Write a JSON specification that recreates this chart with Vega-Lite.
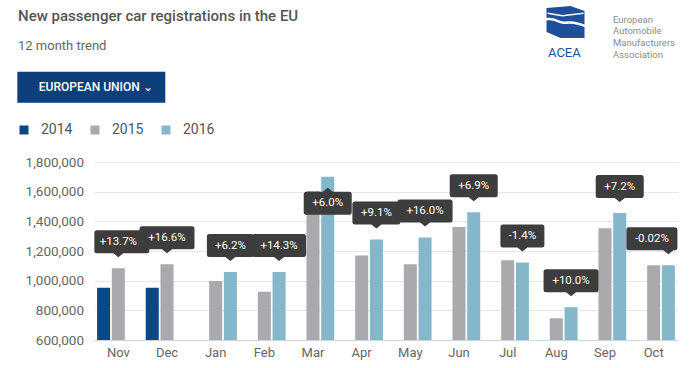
{
  "$schema": "https://vega.github.io/schema/vega-lite/v6.json",
  "width": 584,
  "height": 178,
  "autosize": {"type": "none"},
  "padding": {"left": 94, "top": 162, "right": 22, "bottom": 28},
  "background": "#ffffff",
  "config": {"view": {"stroke": null}, "font": "Roboto"},
  "title": {
    "text": "New passenger car registrations in the EU",
    "subtitle": "12 month trend",
    "anchor": "start",
    "frame": "group",
    "dx": -76,
    "dy": 6,
    "offset": 0,
    "font": "Roboto",
    "fontSize": 15,
    "fontWeight": 500,
    "color": "#555555",
    "subtitleFont": "Roboto",
    "subtitleFontSize": 13,
    "subtitleColor": "#666666",
    "subtitlePadding": 16
  },
  "datasets": {
    "bars": [
      {"month": "Nov", "year": "2014", "value": 953000},
      {"month": "Nov", "year": "2015", "value": 1084000},
      {"month": "Dec", "year": "2014", "value": 953000},
      {"month": "Dec", "year": "2015", "value": 1111000},
      {"month": "Jan", "year": "2015", "value": 998000},
      {"month": "Jan", "year": "2016", "value": 1058000},
      {"month": "Feb", "year": "2015", "value": 926000},
      {"month": "Feb", "year": "2016", "value": 1058000},
      {"month": "Mar", "year": "2015", "value": 1604000},
      {"month": "Mar", "year": "2016", "value": 1700000},
      {"month": "Apr", "year": "2015", "value": 1169000},
      {"month": "Apr", "year": "2016", "value": 1277000},
      {"month": "May", "year": "2015", "value": 1111000},
      {"month": "May", "year": "2016", "value": 1291000},
      {"month": "Jun", "year": "2015", "value": 1361000},
      {"month": "Jun", "year": "2016", "value": 1462000},
      {"month": "Jul", "year": "2015", "value": 1138000},
      {"month": "Jul", "year": "2016", "value": 1122000},
      {"month": "Aug", "year": "2015", "value": 746000},
      {"month": "Aug", "year": "2016", "value": 821000},
      {"month": "Sep", "year": "2015", "value": 1354000},
      {"month": "Sep", "year": "2016", "value": 1456000},
      {"month": "Oct", "year": "2015", "value": 1104000},
      {"month": "Oct", "year": "2016", "value": 1104000}
    ],
    "labels": [
      {"month": "Nov", "year": "2015", "value": 1084000, "label": "+13.7%"},
      {"month": "Dec", "year": "2015", "value": 1111000, "label": "+16.6%"},
      {"month": "Jan", "year": "2016", "value": 1058000, "label": "+6.2%"},
      {"month": "Feb", "year": "2016", "value": 1058000, "label": "+14.3%"},
      {"month": "Mar", "year": "2016", "value": 1700000, "label": "+6.0%"},
      {"month": "Apr", "year": "2016", "value": 1277000, "label": "+9.1%"},
      {"month": "May", "year": "2016", "value": 1291000, "label": "+16.0%"},
      {"month": "Jun", "year": "2016", "value": 1462000, "label": "+6.9%"},
      {"month": "Jul", "year": "2016", "value": 1122000, "label": "-1.4%"},
      {"month": "Aug", "year": "2016", "value": 821000, "label": "+10.0%"},
      {"month": "Sep", "year": "2016", "value": 1456000, "label": "+7.2%"},
      {"month": "Oct", "year": "2016", "value": 1104000, "label": "-0.02%"}
    ],
    "org": [{"org": "ACEA"}]
  },
  "encoding": {
    "x": {
      "field": "month",
      "type": "nominal",
      "scale": {"domain": ["Nov", "Dec", "Jan", "Feb", "Mar", "Apr", "May", "Jun", "Jul", "Aug", "Sep", "Oct"], "paddingInner": 0, "paddingOuter": 0},
      "axis": {"title": null, "labelAngle": 0, "ticks": false, "domainColor": "#d0d6df", "labelPadding": 6, "labelFontSize": 13, "labelColor": "#666666", "labelFont": "Roboto"}
    },
    "xOffset": {
      "field": "year",
      "type": "nominal",
      "scale": {"domain": ["2014", "2015", "2016"], "paddingInner": 0.116, "paddingOuter": 0.21}
    },
    "y": {
      "field": "value",
      "type": "quantitative",
      "scale": {"domain": [600000, 1800000], "zero": false, "nice": false},
      "axis": {"title": null, "values": [600000, 800000, 1000000, 1200000, 1400000, 1600000, 1800000], "format": ",d", "domain": false, "ticks": false, "gridColor": "#e6e6e6", "labelPadding": 10.5, "labelFontSize": 13.5, "labelColor": "#666666", "labelFont": "Roboto"}
    }
  },
  "layer": [
    {
      "data": {"name": "bars"},
      "mark": {"type": "bar", "clip": true},
      "encoding": {
        "color": {
          "field": "year",
          "type": "nominal",
          "scale": {"domain": ["2014", "2015", "2016"], "range": ["#0b4785", "#a9aaad", "#85b7ca"]},
          "legend": {"orient": "none", "legendX": -77, "legendY": -39, "direction": "horizontal", "title": null, "symbolType": "square", "symbolSize": 81, "symbolStrokeWidth": 0, "labelFontSize": 14, "labelColor": "#555555", "labelFont": "Roboto", "labelOffset": 10, "columnPadding": 15, "padding": 0}
        },
        "opacity": {
          "datum": "EUROPEAN UNION  ⌄",
          "type": "ordinal",
          "scale": {"range": [1, 1]},
          "legend": {"orient": "none", "legendX": -76.7, "legendY": -90.3, "title": null, "fillColor": "#0d3f7c", "padding": 9.5, "symbolSize": 0, "symbolStrokeWidth": 0, "symbolOpacity": 0, "labelOffset": 0, "labelColor": "#ffffff", "labelFontSize": 12, "labelFontWeight": 500, "labelFont": "Roboto"}
        }
      }
    },
    {
      "data": {"name": "labels"},
      "mark": {"type": "point", "filled": true, "color": "#3d3d3d", "opacity": 1, "size": 4, "strokeWidth": 0},
      "encoding": {
        "shape": {
          "field": "label",
          "type": "nominal",
          "legend": null,
          "scale": {
            "domain": ["+13.7%", "+16.6%", "+6.2%", "+14.3%", "+6.0%", "+9.1%", "+16.0%", "+6.9%", "-1.4%", "+10.0%", "+7.2%", "-0.02%"],
            "range": [
              "M-21.5,-38 H28.5 Q31,-38 31,-35.5 V-17.5 Q31,-15 28.5,-15 H5 L0,-11 L-5,-15 H-21.5 Q-24,-15 -24,-17.5 V-35.5 Q-24,-38 -21.5,-38 Z",
              "M-25,-38 H25 Q27.5,-38 27.5,-35.5 V-17.5 Q27.5,-15 25,-15 H5 L0,-11 L-5,-15 H-25 Q-27.5,-15 -27.5,-17.5 V-35.5 Q-27.5,-38 -25,-38 Z",
              "M-21,-38 H21 Q23.5,-38 23.5,-35.5 V-17.5 Q23.5,-15 21,-15 H5 L0,-11 L-5,-15 H-21 Q-23.5,-15 -23.5,-17.5 V-35.5 Q-23.5,-38 -21,-38 Z",
              "M-24.5,-38 H24.5 Q27,-38 27,-35.5 V-17.5 Q27,-15 24.5,-15 H5 L0,-11 L-5,-15 H-24.5 Q-27,-15 -27,-17.5 V-35.5 Q-27,-38 -24.5,-38 Z",
              "M-21.5,15 H-5 L0,11 L5,15 H21.5 Q24,15 24,17.5 V35.5 Q24,38 21.5,38 H-21.5 Q-24,38 -24,35.5 V17.5 Q-24,15 -21.5,15 Z",
              "M-21.5,-38 H21.5 Q24,-38 24,-35.5 V-17.5 Q24,-15 21.5,-15 H5 L0,-11 L-5,-15 H-21.5 Q-24,-15 -24,-17.5 V-35.5 Q-24,-38 -21.5,-38 Z",
              "M-25,-38 H25 Q27.5,-38 27.5,-35.5 V-17.5 Q27.5,-15 25,-15 H5 L0,-11 L-5,-15 H-25 Q-27.5,-15 -27.5,-17.5 V-35.5 Q-27.5,-38 -25,-38 Z",
              "M-21.5,-38 H21.5 Q24,-38 24,-35.5 V-17.5 Q24,-15 21.5,-15 H5 L0,-11 L-5,-15 H-21.5 Q-24,-15 -24,-17.5 V-35.5 Q-24,-38 -21.5,-38 Z",
              "M-19.5,-38 H19.5 Q22,-38 22,-35.5 V-17.5 Q22,-15 19.5,-15 H5 L0,-11 L-5,-15 H-19.5 Q-22,-15 -22,-17.5 V-35.5 Q-22,-38 -19.5,-38 Z",
              "M-25,-38 H25 Q27.5,-38 27.5,-35.5 V-17.5 Q27.5,-15 25,-15 H5 L0,-11 L-5,-15 H-25 Q-27.5,-15 -27.5,-17.5 V-35.5 Q-27.5,-38 -25,-38 Z",
              "M-21.5,-38 H21.5 Q24,-38 24,-35.5 V-17.5 Q24,-15 21.5,-15 H5 L0,-11 L-5,-15 H-21.5 Q-24,-15 -24,-17.5 V-35.5 Q-24,-38 -21.5,-38 Z",
              "M-39.5,-38 H6.5 Q9,-38 9,-35.5 V-17.5 Q9,-15 6.5,-15 H5 L0,-11 L-5,-15 H-39.5 Q-42,-15 -42,-17.5 V-35.5 Q-42,-38 -39.5,-38 Z"
            ]
          }
        }
      }
    },
    {
      "data": {"name": "labels"},
      "transform": [{"filter": "datum.month !== 'Mar' && datum.month !== 'Oct'"}],
      "mark": {"type": "text", "color": "#ffffff", "fontSize": 11.5, "font": "Roboto", "baseline": "middle", "align": "center", "dy": -26.5},
      "encoding": {"text": {"field": "label"}}
    },
    {
      "data": {"name": "labels"},
      "transform": [{"filter": "datum.month === 'Mar'"}],
      "mark": {"type": "text", "color": "#ffffff", "fontSize": 11.5, "font": "Roboto", "baseline": "middle", "align": "center", "dy": 26.5},
      "encoding": {"text": {"field": "label"}}
    },
    {
      "data": {"name": "labels"},
      "transform": [{"filter": "datum.month === 'Oct'"}],
      "mark": {"type": "text", "color": "#ffffff", "fontSize": 11.5, "font": "Roboto", "baseline": "middle", "align": "center", "dy": -26.5, "dx": -16.5},
      "encoding": {"text": {"field": "label"}}
    },
    {
      "data": {"name": "org"},
      "mark": {"type": "point", "filled": true, "color": "#1d4f9a", "opacity": 0, "size": 4},
      "encoding": {
        "x": null,
        "xOffset": null,
        "y": null,
        "shape": {
          "datum": "ACEA",
          "type": "nominal",
          "scale": {"range": ["M1,-45 L25,-47 L39,-42 L39,-15 L15,-15 L1,-21 Z M2,-40.5 L2,-39 L17,-36.5 L38,-39 L38,-40.5 L17,-38 Z M1,-35 L1,-32.5 C9,-34 15,-28 21,-29 C27,-30 33,-28 39,-26 L39,-28.5 C33,-30.5 27,-32.5 21,-31.5 C15,-30.5 9,-36.5 1,-35 Z"]},
          "legend": {"orient": "none", "legendX": 445, "legendY": -115.5, "title": ["European", "Automobile", "Manufacturers", "Association"], "titleOrient": "right", "titleAnchor": "end", "titleBaseline": "bottom", "titleFontSize": 9.5, "titleFontWeight": "normal", "titleColor": "#8c8c8c", "titleLineHeight": 11.7, "titlePadding": 28, "titleFont": "Roboto", "labelColor": "#1d4f9a", "labelFontSize": 13, "labelFont": "Roboto", "labelOffset": -4, "symbolSize": 4, "symbolOpacity": 1, "symbolStrokeWidth": 0, "padding": 0}
        }
      }
    }
  ],
  "resolve": {"scale": {"shape": "independent"}}
}
